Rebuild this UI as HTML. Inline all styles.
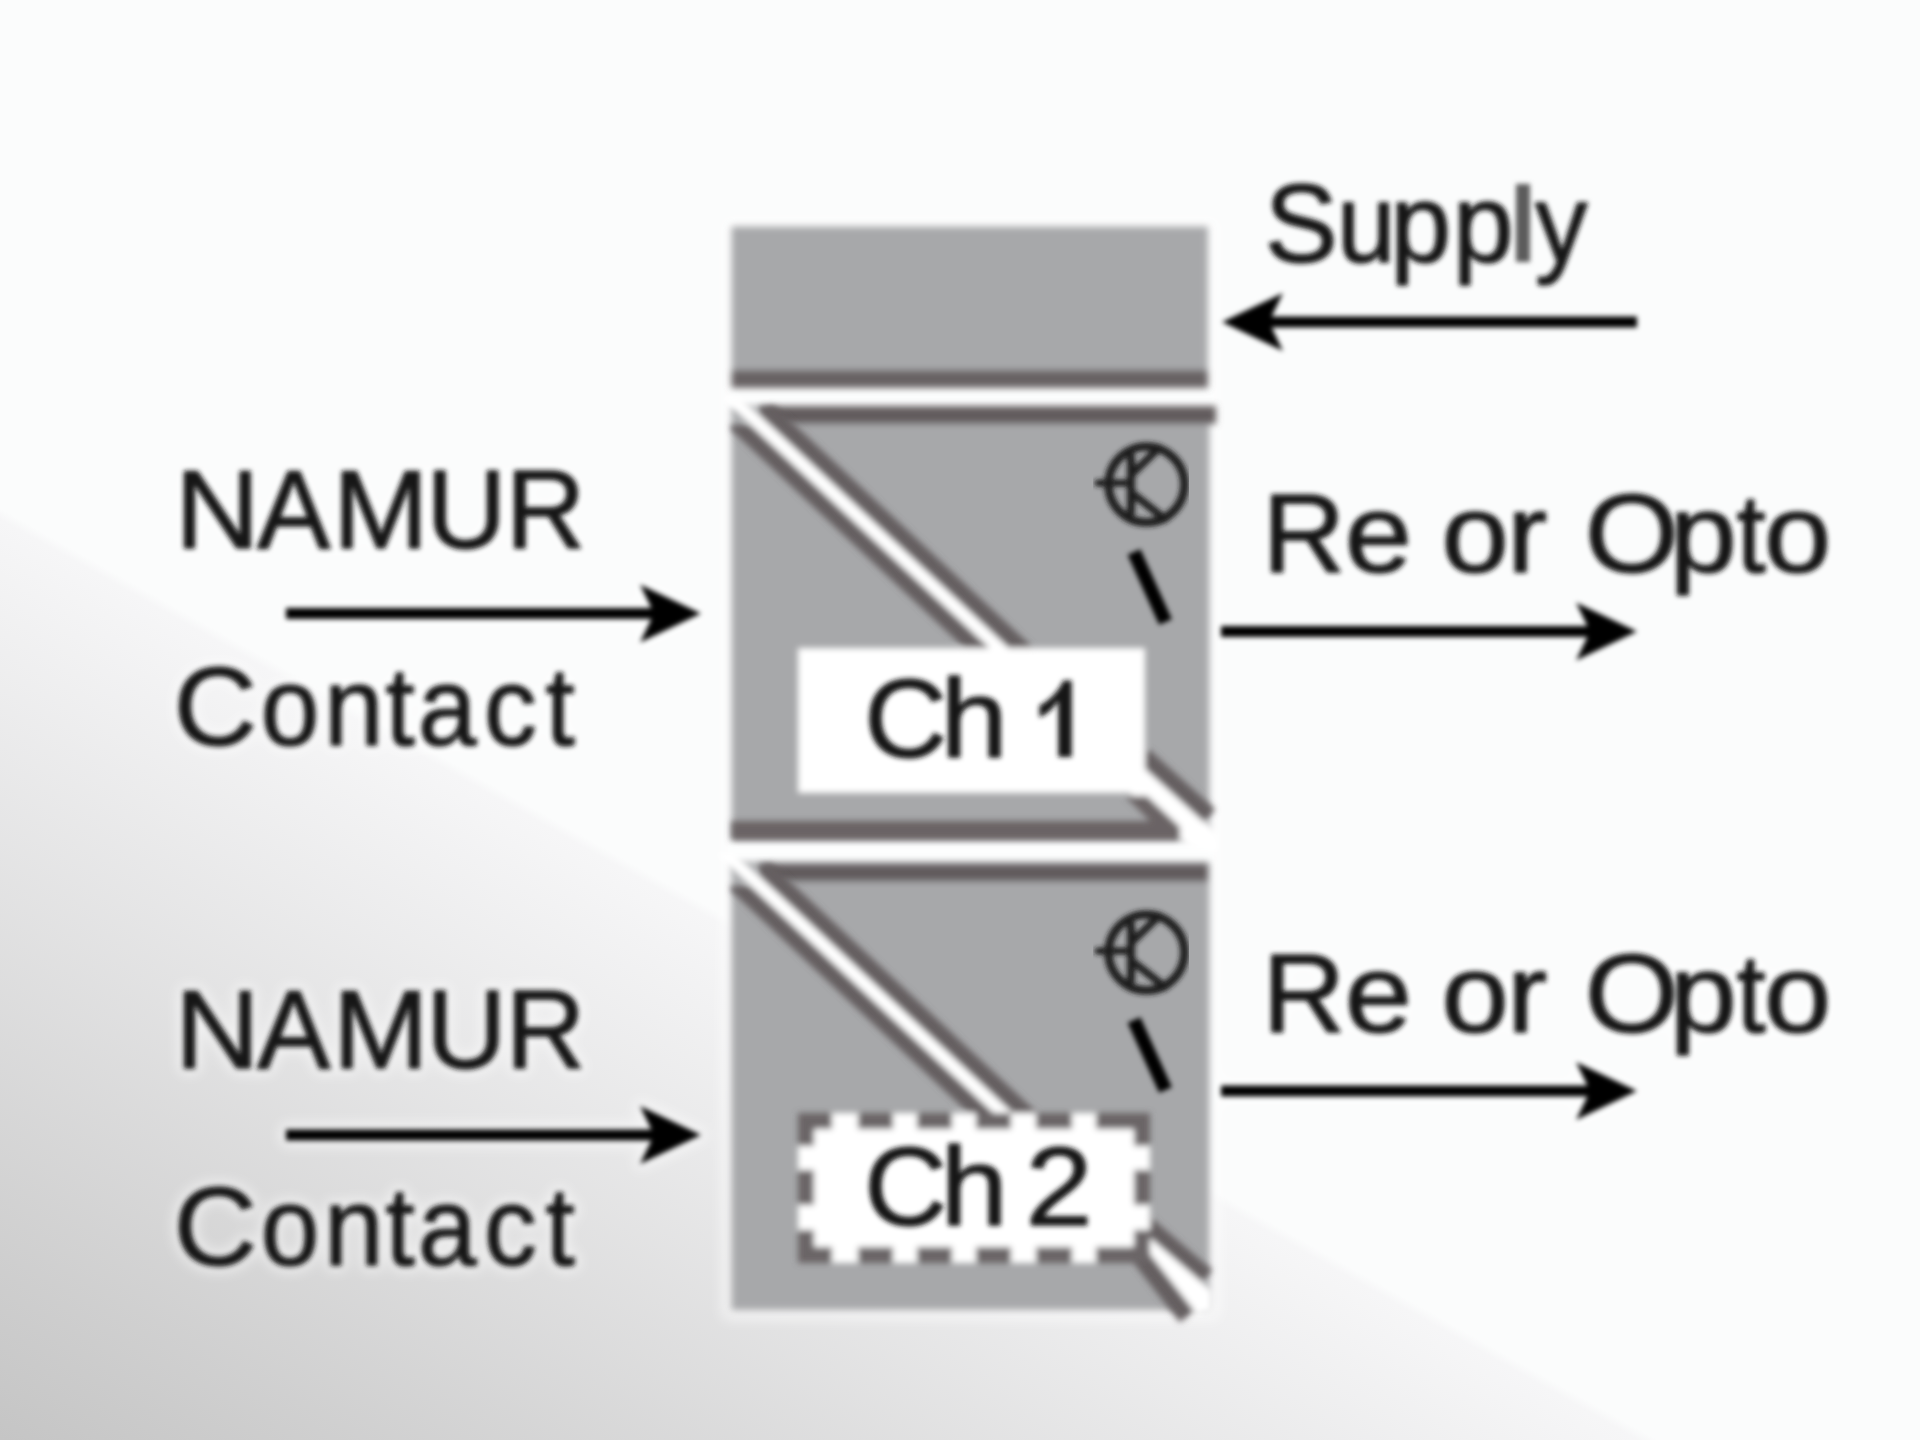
<!DOCTYPE html>
<html>
<head>
<meta charset="utf-8">
<title>NAMUR Contact - 2 channel</title>
<style>
html,body{margin:0;padding:0;background:#fbfcfc;}
body{width:1920px;height:1440px;overflow:hidden;position:relative;
 font-family:"Liberation Sans",sans-serif;}
#bg{position:absolute;left:0;top:0;width:1920px;height:1440px;background:#fbfcfc;}
svg{position:absolute;left:0;top:0;}
text{font-family:"Liberation Sans",sans-serif;}
</style>
</head>
<body>
<div id="bg"></div>
<svg width="1920" height="1440" viewBox="0 0 1920 1440">
<defs>
 <linearGradient id="bgg" gradientUnits="userSpaceOnUse" x1="400" y1="733" x2="2.6" y2="1440.2">
  <stop offset="0" stop-color="#fbfcfc"/>
  <stop offset="0.012" stop-color="#f6f6f7"/>
  <stop offset="1" stop-color="#c5c5c5"/>
 </linearGradient>
 <filter id="bl" x="-5%" y="-5%" width="110%" height="110%"><feGaussianBlur stdDeviation="3.6"/></filter>
 <filter id="bm" x="-5%" y="-5%" width="110%" height="110%"><feGaussianBlur stdDeviation="3"/></filter>
 <filter id="halo" x="-5%" y="-5%" width="110%" height="110%"><feGaussianBlur stdDeviation="7"/></filter>
 <filter id="bt" x="-5%" y="-5%" width="110%" height="110%"><feGaussianBlur stdDeviation="2.9"/></filter>
 <clipPath id="cr"><rect x="1100" y="700" width="111" height="140"/></clipPath>
 <clipPath id="c1"><rect x="731" y="406" width="486" height="434"/></clipPath>
 <clipPath id="c2"><path d="M731 862 H1209 V1310 H1209 L1196 1322 L1170 1310 H731 Z"/></clipPath>
</defs>

<rect x="0" y="0" width="1920" height="1440" fill="url(#bgg)"/>

<!-- ===== soft white halo (upscale ringing) ===== -->
<g filter="url(#halo)" opacity="0.6" fill="#ffffff" stroke="#ffffff" stroke-width="12" stroke-linejoin="round" font-size="112">
 <rect x="728" y="224" width="486" height="1090"/>
 <g><text transform="translate(217.5,547.5) scale(1.047,1)" x="-40.5" y="0">N</text><text transform="translate(293.8,547.5) scale(0.983,1)" x="-37.4" y="0">A</text><text transform="translate(380.6,547.5) scale(1.024,1)" x="-46.6" y="0">M</text><text transform="translate(466.2,547.5) scale(0.991,1)" x="-40.4" y="0">U</text><text transform="translate(547.5,547.5) scale(0.985,1)" x="-42.4" y="0">R</text></g><g><text transform="translate(216.2,744.5) scale(1.029,1)" x="-41.2" y="0">C</text><text transform="translate(290.0,744.5) scale(0.940,1)" x="-31.1" y="0">o</text><text transform="translate(353.8,744.5) scale(0.956,1)" x="-31.2" y="0">n</text><text transform="translate(400.6,744.5) scale(0.940,1)" x="-16.0" y="0">t</text><text transform="translate(449.4,744.5) scale(0.940,1)" x="-33.5" y="0">a</text><text transform="translate(511.2,744.5) scale(0.942,1)" x="-28.9" y="0">c</text><text transform="translate(560.6,744.5) scale(0.940,1)" x="-16.0" y="0">t</text></g><g><text transform="translate(217.5,1067.5) scale(1.047,1)" x="-40.5" y="0">N</text><text transform="translate(293.8,1067.5) scale(0.983,1)" x="-37.4" y="0">A</text><text transform="translate(380.6,1067.5) scale(1.024,1)" x="-46.6" y="0">M</text><text transform="translate(466.2,1067.5) scale(0.991,1)" x="-40.4" y="0">U</text><text transform="translate(547.5,1067.5) scale(0.985,1)" x="-42.4" y="0">R</text></g><g><text transform="translate(216.2,1264.5) scale(1.029,1)" x="-41.2" y="0">C</text><text transform="translate(290.0,1264.5) scale(0.940,1)" x="-31.1" y="0">o</text><text transform="translate(353.8,1264.5) scale(0.956,1)" x="-31.2" y="0">n</text><text transform="translate(400.6,1264.5) scale(0.940,1)" x="-16.0" y="0">t</text><text transform="translate(449.4,1264.5) scale(0.940,1)" x="-33.5" y="0">a</text><text transform="translate(511.2,1264.5) scale(0.942,1)" x="-28.9" y="0">c</text><text transform="translate(560.6,1264.5) scale(0.940,1)" x="-16.0" y="0">t</text></g>
 <g><text transform="translate(1305.8,1031.5) scale(1.023,1)" x="-42.4" y="0">R</text><text transform="translate(1378.3,1031.5) scale(1.080,1)" x="-31.0" y="0">e</text><text transform="translate(1475.0,1031.5) scale(1.080,1)" x="-31.1" y="0">o</text><text transform="translate(1530.0,1031.5) scale(1.080,1)" x="-21.4" y="0">r</text><text transform="translate(1631.7,1031.5) scale(1.080,1)" x="-43.5" y="0">O</text><text transform="translate(1704.5,1031.5) scale(1.080,1)" x="-32.4" y="0">p</text><text transform="translate(1751.5,1031.5) scale(0.940,1)" x="-16.0" y="0">t</text><text transform="translate(1797.5,1031.5) scale(1.080,1)" x="-31.1" y="0">o</text></g>
 <rect x="286" y="608" width="375" height="11"/><path d="M701 613.5 L640 584.5 L654 613.5 L640 642.5 Z"/><rect x="286" y="1129.5" width="375" height="11"/><path d="M701 1135 L640 1106 L654 1135 L640 1164 Z"/><rect x="1221" y="1085.5" width="376" height="11"/><path d="M1637 1091 L1576 1062 L1590 1091 L1576 1120 Z"/>
</g>

<!-- ===== module blocks (base, soft edges) ===== -->
<g filter="url(#bl)">
 <!-- supply block -->
 <rect x="731.5" y="226.5" width="476.5" height="161.5" fill="#a7a8aa"/>
 <rect x="731.5" y="370" width="476.5" height="18" fill="#686263"/>
 <!-- channel 1 -->
 <rect x="731.5" y="406" width="478" height="434" fill="#a7a8aa"/>
 <rect x="766" y="406" width="450" height="18" fill="#625c5d"/>
 <!-- channel 2 -->
 <rect x="731.5" y="862" width="478" height="448" fill="#a7a8aa"/>
 <rect x="766" y="863.5" width="442" height="18" fill="#625c5d"/>
</g>
<!-- ===== diagonal splits, label boxes ===== -->
<g filter="url(#bm)">
 <defs>
 <clipPath id="cla"><rect x="731" y="425" width="380" height="415"/></clipPath>
 <clipPath id="cua"><rect x="759" y="406" width="380" height="434"/></clipPath>
 <clipPath id="cwa"><rect x="700" y="397" width="411" height="443"/></clipPath>
 </defs>
 <line x1="679.8" y1="370.3" x2="1129.8" y2="790.6" stroke="#655f60" stroke-width="17.0" clip-path="url(#cla)"/>
 <line x1="700.2" y1="348.3" x2="1150.2" y2="768.6" stroke="#655f60" stroke-width="17.0" clip-path="url(#cua)"/>
 <line x1="700.2" y1="368.9" x2="1140.0" y2="779.6" stroke="#ffffff" stroke-width="13.0" clip-path="url(#cwa)"/>
 <path d="M1137 760 L1218 833 L1218 852 L1190 848 L1122 786 Z" fill="#ffffff"/>
 <path d="M731.5 821 H1150 L1125 796 H1147 L1180 827 V840 H731.5 Z" fill="#6a6465"/>
 <line x1="1143" y1="755.5" x2="1209.5" y2="815.6" stroke="#655f60" stroke-width="17"/>
 <rect x="798" y="648" width="347" height="145" fill="#ffffff"/>
 <defs>
 <clipPath id="clb"><rect x="731" y="886" width="380" height="424"/></clipPath>
 <clipPath id="cub"><rect x="759" y="863.5" width="380" height="448"/></clipPath>
 <clipPath id="cwb"><rect x="700" y="853" width="411" height="457"/></clipPath>
 </defs>
 <line x1="679.8" y1="831.3" x2="1129.8" y2="1252.0" stroke="#655f60" stroke-width="17.0" clip-path="url(#clb)"/>
 <line x1="700.2" y1="809.3" x2="1150.2" y2="1230.1" stroke="#655f60" stroke-width="17.0" clip-path="url(#cub)"/>
 <line x1="700.2" y1="829.9" x2="1140.0" y2="1241.0" stroke="#ffffff" stroke-width="13.0" clip-path="url(#cwb)"/>
 <path d="M1141 1230 L1212 1291 L1212 1311 L1194 1315 L1146 1249 Z" fill="#ffffff"/>
 <line x1="1146" y1="1223.7" x2="1207" y2="1276" stroke="#655f60" stroke-width="16"/>
 <line x1="1137" y1="1252.4" x2="1187" y2="1316.6" stroke="#655f60" stroke-width="18.5"/>
 <rect x="798" y="1113" width="352" height="150" fill="#ffffff"/>
 <rect x="798" y="1113" width="34" height="16" fill="#6b6566"/>
 <rect x="858" y="1113" width="35" height="16" fill="#6b6566"/>
 <rect x="917" y="1113" width="35" height="16" fill="#6b6566"/>
 <rect x="976" y="1113" width="35" height="16" fill="#6b6566"/>
 <rect x="1036" y="1113" width="36" height="16" fill="#6b6566"/>
 <rect x="1096" y="1113" width="54" height="16" fill="#6b6566"/>
 <rect x="798" y="1247" width="34" height="16" fill="#6b6566"/>
 <rect x="858" y="1247" width="35" height="16" fill="#6b6566"/>
 <rect x="917" y="1247" width="35" height="16" fill="#6b6566"/>
 <rect x="976" y="1247" width="35" height="16" fill="#6b6566"/>
 <rect x="1036" y="1247" width="36" height="16" fill="#6b6566"/>
 <rect x="1096" y="1247" width="54" height="16" fill="#6b6566"/>
 <rect x="798" y="1113" width="16" height="33" fill="#6b6566"/>
 <rect x="798" y="1170" width="16" height="35" fill="#6b6566"/>
 <rect x="798" y="1230" width="16" height="33" fill="#6b6566"/>
 <rect x="1134" y="1113" width="16" height="33" fill="#6b6566"/>
 <rect x="1134" y="1170" width="16" height="35" fill="#6b6566"/>
 <rect x="1134" y="1230" width="16" height="33" fill="#6b6566"/>
</g>

<!-- ===== transistor symbols + contact bars ===== -->
<g filter="url(#bt)" fill="none" stroke="#1c1c1c" stroke-linecap="round">
 <g transform="translate(0,0)">
  <circle cx="1146.5" cy="484.5" r="38" stroke-width="8.5"/>
  <line x1="1098" y1="483" x2="1130" y2="483" stroke-width="7"/>
  <line x1="1131" y1="457" x2="1131" y2="512" stroke-width="8"/>
  <line x1="1132" y1="474" x2="1159" y2="448" stroke-width="7.5"/>
  <line x1="1132" y1="493" x2="1165" y2="519" stroke-width="7.5"/>
  <line x1="1134" y1="552" x2="1165.5" y2="622" stroke="#000" stroke-width="14" stroke-linecap="butt"/>
 </g>
 <g transform="translate(0,468)">
  <circle cx="1146.5" cy="484.5" r="38" stroke-width="8.5"/>
  <line x1="1098" y1="483" x2="1130" y2="483" stroke-width="7"/>
  <line x1="1131" y1="457" x2="1131" y2="512" stroke-width="8"/>
  <line x1="1132" y1="474" x2="1159" y2="448" stroke-width="7.5"/>
  <line x1="1132" y1="493" x2="1165" y2="519" stroke-width="7.5"/>
  <line x1="1134" y1="552" x2="1165.5" y2="622" stroke="#000" stroke-width="14" stroke-linecap="butt"/>
 </g>
</g>

<!-- ===== arrows ===== -->
<g filter="url(#bt)" fill="#000" stroke="none">
 <rect x="1262" y="316.5" width="375" height="11"/><path d="M1222 322 L1283 293 L1269 322 L1283 351 Z"/>
 <rect x="286" y="608" width="375" height="11"/><path d="M701 613.5 L640 584.5 L654 613.5 L640 642.5 Z"/>
 <rect x="1221" y="626" width="376" height="11"/><path d="M1637 631.5 L1576 602.5 L1590 631.5 L1576 660.5 Z"/>
 <rect x="286" y="1129.5" width="375" height="11"/><path d="M701 1135 L640 1106 L654 1135 L640 1164 Z"/>
 <rect x="1221" y="1085.5" width="376" height="11"/><path d="M1637 1091 L1576 1062 L1590 1091 L1576 1120 Z"/>
</g>

<!-- ===== labels ===== -->
<g filter="url(#bt)" font-size="112" fill="#161616" stroke="#161616" stroke-width="1.5" stroke-linejoin="round">
 <g><text transform="translate(1301.2,262.0) scale(0.977,1)" x="-37.3" y="0">S</text><text transform="translate(1366.2,262.0) scale(0.940,1)" x="-31.1" y="0">u</text><text transform="translate(1421.9,262.0) scale(0.978,1)" x="-32.4" y="0">p</text><text transform="translate(1484.4,262.0) scale(0.978,1)" x="-32.4" y="0">p</text><rect x="1516" y="184" width="14" height="78" fill="#5c5c5c" stroke="none"/><text transform="translate(1561.2,262.0) scale(0.940,1)" x="-28.0" y="0">y</text></g>
 <g><text transform="translate(1305.8,571.5) scale(1.023,1)" x="-42.4" y="0">R</text><text transform="translate(1378.3,571.5) scale(1.080,1)" x="-31.0" y="0">e</text><text transform="translate(1475.0,571.5) scale(1.080,1)" x="-31.1" y="0">o</text><text transform="translate(1530.0,571.5) scale(1.080,1)" x="-21.4" y="0">r</text><text transform="translate(1631.7,571.5) scale(1.080,1)" x="-43.5" y="0">O</text><text transform="translate(1704.5,571.5) scale(1.080,1)" x="-32.4" y="0">p</text><text transform="translate(1751.5,571.5) scale(0.940,1)" x="-16.0" y="0">t</text><text transform="translate(1797.5,571.5) scale(1.080,1)" x="-31.1" y="0">o</text></g>
 <g><text transform="translate(1305.8,1031.5) scale(1.023,1)" x="-42.4" y="0">R</text><text transform="translate(1378.3,1031.5) scale(1.080,1)" x="-31.0" y="0">e</text><text transform="translate(1475.0,1031.5) scale(1.080,1)" x="-31.1" y="0">o</text><text transform="translate(1530.0,1031.5) scale(1.080,1)" x="-21.4" y="0">r</text><text transform="translate(1631.7,1031.5) scale(1.080,1)" x="-43.5" y="0">O</text><text transform="translate(1704.5,1031.5) scale(1.080,1)" x="-32.4" y="0">p</text><text transform="translate(1751.5,1031.5) scale(0.940,1)" x="-16.0" y="0">t</text><text transform="translate(1797.5,1031.5) scale(1.080,1)" x="-31.1" y="0">o</text></g>
 <g><text transform="translate(217.5,547.5) scale(1.047,1)" x="-40.5" y="0">N</text><text transform="translate(293.8,547.5) scale(0.983,1)" x="-37.4" y="0">A</text><text transform="translate(380.6,547.5) scale(1.024,1)" x="-46.6" y="0">M</text><text transform="translate(466.2,547.5) scale(0.991,1)" x="-40.4" y="0">U</text><text transform="translate(547.5,547.5) scale(0.985,1)" x="-42.4" y="0">R</text></g>
 <g><text transform="translate(216.2,744.5) scale(1.029,1)" x="-41.2" y="0">C</text><text transform="translate(290.0,744.5) scale(0.940,1)" x="-31.1" y="0">o</text><text transform="translate(353.8,744.5) scale(0.956,1)" x="-31.2" y="0">n</text><text transform="translate(400.6,744.5) scale(0.940,1)" x="-16.0" y="0">t</text><text transform="translate(449.4,744.5) scale(0.940,1)" x="-33.5" y="0">a</text><text transform="translate(511.2,744.5) scale(0.942,1)" x="-28.9" y="0">c</text><text transform="translate(560.6,744.5) scale(0.940,1)" x="-16.0" y="0">t</text></g>
 <g><text transform="translate(217.5,1067.5) scale(1.047,1)" x="-40.5" y="0">N</text><text transform="translate(293.8,1067.5) scale(0.983,1)" x="-37.4" y="0">A</text><text transform="translate(380.6,1067.5) scale(1.024,1)" x="-46.6" y="0">M</text><text transform="translate(466.2,1067.5) scale(0.991,1)" x="-40.4" y="0">U</text><text transform="translate(547.5,1067.5) scale(0.985,1)" x="-42.4" y="0">R</text></g>
 <g><text transform="translate(216.2,1264.5) scale(1.029,1)" x="-41.2" y="0">C</text><text transform="translate(290.0,1264.5) scale(0.940,1)" x="-31.1" y="0">o</text><text transform="translate(353.8,1264.5) scale(0.956,1)" x="-31.2" y="0">n</text><text transform="translate(400.6,1264.5) scale(0.940,1)" x="-16.0" y="0">t</text><text transform="translate(449.4,1264.5) scale(0.940,1)" x="-33.5" y="0">a</text><text transform="translate(511.2,1264.5) scale(0.942,1)" x="-28.9" y="0">c</text><text transform="translate(560.6,1264.5) scale(0.940,1)" x="-16.0" y="0">t</text></g>
 <g><text transform="translate(906.6,757.0) scale(1.026,1)" x="-41.2" y="0">C</text><text transform="translate(974.3,757.0) scale(1.080,1)" x="-31.4" y="0">h</text><path d="M1071.7 680.5 L1063.2 680.5 C1059.2 690.5 1049.4 700.5 1039.4 705.5 L1039.4 717.5 C1048.4 713.5 1054.2 707.5 1058.2 700.5 L1058.2 757 L1071.7 757 Z" stroke="none"/></g>
 <g><text transform="translate(906.6,1225.0) scale(1.026,1)" x="-41.2" y="0">C</text><text transform="translate(974.3,1225.0) scale(1.080,1)" x="-31.4" y="0">h</text><text transform="translate(1059.0,1225.0) scale(1.078,1)" x="-31.1" y="0">2</text></g>
</g>
</svg>
</body>
</html>
